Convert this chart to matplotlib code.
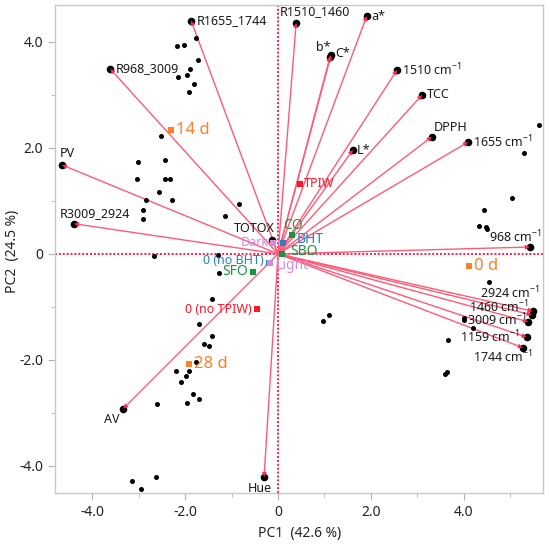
import matplotlib
matplotlib.use("Agg")
import matplotlib.pyplot as plt
from matplotlib.ticker import FixedLocator

plt.rcParams['font.family'] = ['Noto Sans', 'DejaVu Sans']
plt.rcParams['mathtext.fontset'] = 'custom'
plt.rcParams['mathtext.rm'] = 'Noto Sans'
plt.rcParams['mathtext.it'] = 'Noto Sans'

# ---------------- data ----------------
score_pc1 = [-2.17, -2.02, -1.76, -1.72, -1.89, -2.15, -1.96, -1.81, -1.91, -2.52,
             -3.01, -2.43, -3.03, -2.43, -2.32, -2.56, -2.84, -2.28, -2.90, -2.90,
             -1.14, -0.84, -2.67, -1.29, -1.27, -1.42, -1.70, -1.42, -1.59, -1.48,
             -1.76, -2.19, -1.91, -1.98, -2.09, -1.83, -1.70, -1.96, -2.60, -3.14,
             -2.62, -2.95, 5.61, 5.29, 5.03, 4.43, 4.32, 4.47, 4.49, 4.54,
             4.00, 4.00, 4.19, 3.66, 3.59, 3.63, 0.97, 1.10]
score_pc2 = [3.92, 3.94, 4.08, 3.66, 3.49, 3.34, 3.38, 3.21, 3.06, 2.23,
             1.74, 1.77, 1.42, 1.42, 1.42, 1.17, 1.02, 1.02, 0.83, 0.66,
             0.72, 0.94, -0.04, -0.02, -0.36, -0.85, -1.32, -1.55, -1.70, -1.74,
             -2.04, -2.21, -2.21, -2.30, -2.42, -2.64, -2.74, -2.81, -2.83, -4.28,
             -4.21, -4.43, 2.43, 1.91, 1.06, 0.83, 0.53, 0.51, 0.47, -0.53,
             -1.21, -1.25, -1.40, -1.62, -2.26, -2.23, -1.26, -1.15]

loading_names = ['R1655_1744', 'R968_3009', 'PV', 'R3009_2924', 'TOTOX', 'AV', 'Hue',
                 'R1510_1460', 'a*', 'b*', 'C*', '1510 cm$^{-1}$', 'TCC', 'DPPH',
                 '1655 cm$^{-1}$', 'L*', '968 cm$^{-1}$', '2924 cm$^{-1}$',
                 '1460 cm$^{-1}$', '3009 cm$^{-1}$', '1159 cm$^{-1}$', '1744 cm$^{-1}$']
loading_pc1 = [-1.87, -3.61, -4.65, -4.39, -0.13, -3.33, -0.30,
               0.39, 1.91, 1.12, 1.14, 2.56, 3.10, 3.31,
               4.09, 1.61, 5.42, 5.48, 5.46, 5.38, 5.35, 5.27]
loading_pc2 = [4.40, 3.49, 1.68, 0.57, 0.26, -2.92, -4.21,
               4.36, 4.49, 3.72, 3.75, 3.47, 3.00, 2.21,
               2.11, 1.96, 0.13, -1.08, -1.15, -1.28, -1.57, -1.77]

supp_names = ['14 d', '0 d', '28 d', 'TPIW', '0 (no TPIW)', 'CO', 'SBO', 'SFO',
              'BHT', '0 (no BHT)', 'Light', 'Dark']
supp_pc1 = [-2.30, 4.11, -1.91, 0.47, -0.45, 0.30, 0.09, -0.54, 0.11, -0.20, -0.17, -0.11]
supp_pc2 = [2.34, -0.23, -2.08, 1.32, -1.04, 0.36, -0.01, -0.34, 0.21, -0.17, -0.17, 0.21]

# ---------------- styles ----------------
ORANGE = '#FF7F27'
RED = '#F41A2A'
GREEN = '#17963F'
BLUE = '#2680C2'
VIOLET = '#D68AD6'
supp_colors = [ORANGE, ORANGE, ORANGE, RED, RED, GREEN, GREEN, GREEN, BLUE, BLUE, VIOLET, VIOLET]
supp_sizes = [12, 12, 12, 9, 9, 10, 10, 10, 10, 9, 10, 9]
# (dx, dy, ha, va) offsets in pixels
supp_offs = [(5, 0, 'left', 'center'), (5, 0, 'left', 'center'), (5, 0, 'left', 'center'),
             (4, 0, 'left', 'center'), (-5, 0, 'right', 'center'), (1, 9, 'center', 'center'),
             (8, 3, 'left', 'center'), (-5, 0, 'right', 'center'), (13, 3, 'left', 'center'),
             (-5, 2, 'right', 'center'), (6, -3, 'left', 'center'), (-4, 0, 'right', 'center')]

load_offs = [(6, 0, 'left', 'center'), (5, 0, 'left', 'center'), (-2, 5, 'left', 'bottom'),
             (-14, 4, 'left', 'bottom'), (3, 5, 'right', 'bottom'), (-4, -4, 'right', 'top'),
             (-4, -5, 'center', 'top'), (-16, 5, 'left', 'bottom'), (5, 0, 'left', 'center'),
             (0, 3, 'right', 'bottom'), (4, 2, 'left', 'center'), (5, 0, 'left', 'center'),
             (5, 0, 'left', 'center'), (2, 3, 'left', 'bottom'), (5, 0, 'left', 'center'),
             (4, 0, 'left', 'center'), (12, 10, 'right', 'center'), (7, 18, 'right', 'center'),
             (-3, 8, 'right', 'center'), (-1, 2, 'right', 'center'), (-7, 0, 'right', 'center'),
             (10, -9, 'right', 'center')]

LINE = '#FF5A78'

fig = plt.figure(figsize=(5.5, 5.44), dpi=100)
ax = fig.add_axes([0.1, 0.094, 0.887, 0.897])
ax.set_xlim(-4.80, 5.70)
ax.set_ylim(-4.51, 4.70)

# zero lines
ax.axhline(0, color='#FF1A4A', lw=1.4, ls=(0, (1, 1)), zorder=1)
ax.axvline(0, color='#FF1A4A', lw=1.4, ls=(0, (1, 1)), zorder=1)

# scores
ax.scatter(score_pc1, score_pc2, s=13, color='black', zorder=3, linewidths=0)

# loadings
for name, x, y, off in zip(loading_names, loading_pc1, loading_pc2, load_offs):
    ax.plot([0, x], [0, y], color=LINE, lw=1.0, zorder=2)
    ax.scatter([x], [y], s=30, color='black', zorder=4, linewidths=0)
    ax.annotate('', xy=(x, y), xytext=(0, 0),
                arrowprops=dict(arrowstyle='-|>', color='#FF2850', lw=0,
                                mutation_scale=9, shrinkA=0, shrinkB=0), zorder=5)
    dx, dy, ha, va = off
    ax.annotate(name, xy=(x, y), xytext=(dx, dy), textcoords='offset pixels',
                ha=ha, va=va, fontsize=9, color='#1a1a1a', zorder=6)

# supplementary categories
for name, x, y, c, fs, off in zip(supp_names, supp_pc1, supp_pc2, supp_colors, supp_sizes, supp_offs):
    ax.scatter([x], [y], s=22, marker='s', color=c, zorder=5, linewidths=0)
    dx, dy, ha, va = off
    ax.annotate(name, xy=(x, y), xytext=(dx, dy), textcoords='offset pixels',
                ha=ha, va=va, fontsize=fs, color=c, zorder=6)

# axes styling
for sp in ax.spines.values():
    sp.set_color('#C8C8C8')
    sp.set_linewidth(1.0)
ax.xaxis.set_major_locator(FixedLocator([-4, -2, 0, 2, 4]))
ax.yaxis.set_major_locator(FixedLocator([-4, -2, 0, 2, 4]))
ax.xaxis.set_minor_locator(FixedLocator([-3, -1, 1, 3, 5]))
ax.yaxis.set_minor_locator(FixedLocator([-3, -1, 1, 3]))
ax.set_xticklabels(['-4.0', '-2.0', '0', '2.0', '4.0'])
ax.set_yticklabels(['-4.0', '-2.0', '0', '2.0', '4.0'])
ax.tick_params(which='major', length=5, color='#B0B0B0', labelsize=10, labelcolor='#222222')
ax.tick_params(which='minor', length=3, color='#B0B0B0')

fig.text(0.545, 0.02, 'PC1  (42.6 %)', ha='center', va='center', fontsize=10, color='#222222')
fig.text(0.022, 0.537, 'PC2  (24.5 %)', ha='center', va='center', rotation=90, fontsize=10, color='#222222')

fig.savefig('out.png', dpi=100)
